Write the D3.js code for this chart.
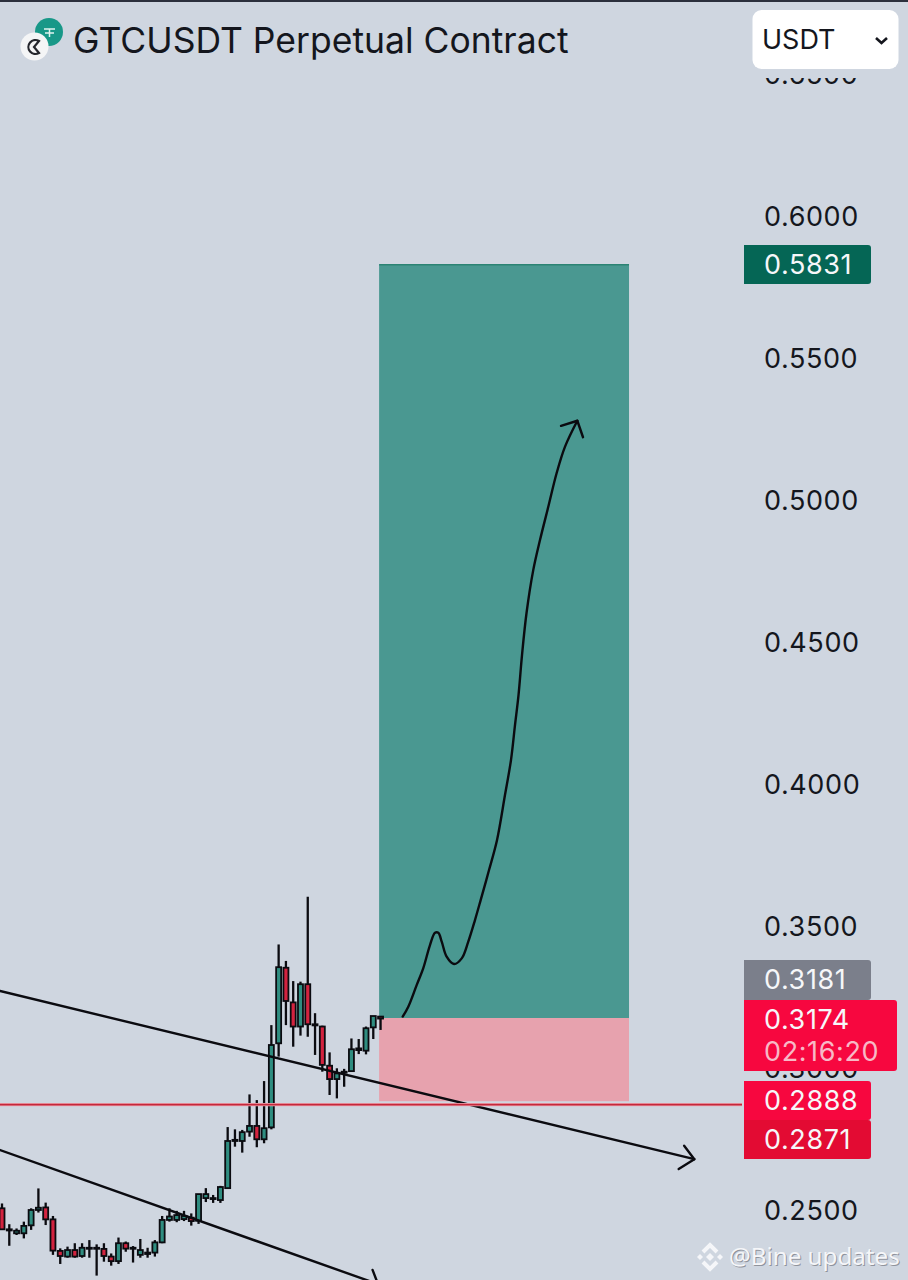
<!DOCTYPE html>
<html>
<head>
<meta charset="utf-8">
<script src="https://cdn.jsdelivr.net/npm/d3@7"></script>
<style>
  html, body { margin: 0; padding: 0; background: #cfd6e0; }
  svg { display: block; font-family: Inter, Roboto, sans-serif; }
</style>
</head>
<body>
<svg id="chart" width="908" height="1280"></svg>
<script>
// candle prices
const opens  = [.2506,.2432,.2418,.2418,.2446,.2500,.2509,.2467,.2356,.2336,.2359,.2338,.2364,.2364,.2363,.2336,.2320,.2383,.2364,.2342,.2345,.2350,.2386,.2465,.2465,.2468,.2473,.2462,.2542,.2539,.2535,.2577,.2743,.2743,.2776,.2796,.2749,.2791,.3087,.3353,.3231,.3146,.3295,.3154,.3146,.3008,.2961,.2984,.2989,.3063,.3061,.3143,.3181];
const closes = [.2432,.2428,.2427,.2444,.2500,.2508,.2467,.2357,.2338,.2359,.2336,.2367,.2367,.2367,.2338,.2320,.2383,.2364,.2367,.2359,.2350,.2386,.2465,.2477,.2482,.2479,.2461,.2556,.2556,.2542,.2581,.2743,.2747,.2774,.2796,.2749,.2788,.3081,.3355,.3236,.3146,.3295,.3154,.3150,.3011,.2961,.2981,.2987,.3066,.3069,.3140,.3183,.3174];
const highs  = [.2523,.2450,.2435,.2459,.2506,.2576,.2526,.2479,.2365,.2371,.2383,.2383,.2394,.2379,.2383,.2347,.2403,.2389,.2373,.2398,.2367,.2394,.2479,.2506,.2497,.2497,.2488,.2556,.2577,.2553,.2585,.2792,.2784,.2782,.2907,.2887,.2954,.3151,.3435,.3377,.3306,.3304,.3603,.3193,.3149,.3055,.2999,.2997,.3104,.3102,.3146,.3183,.3183];
const lows   = [.2430,.2374,.2412,.2400,.2430,.2491,.2447,.2342,.2310,.2332,.2332,.2332,.2332,.2269,.2318,.2304,.2310,.2353,.2315,.2332,.2332,.2336,.2383,.2459,.2457,.2461,.2445,.2451,.2528,.2525,.2525,.2574,.2723,.2702,.2758,.2721,.2735,.2784,.3040,.3151,.3075,.3114,.3110,.3046,.2987,.2905,.2893,.2934,.2987,.3049,.3048,.3102,.3134];

const tickLabels = [0.25, 0.3, 0.35, 0.4, 0.45, 0.5, 0.55, 0.6, 0.65];

// long position box: target, entry, stop
const boxStart = 51.8, boxEnd = 86.13;
const targetPrice = 0.5828, entryPrice = 0.3176, stopPrice = 0.2883;
const redLinePrice = 0.2871;

// hand drawn trend lines and arrow (bar index, price)
const upperIdx   = [-0.27, 95.1];
const upperPrice = [0.3271, 0.2679];
const upperHeadIdx   = [93.7, 95.1, 92.95];
const upperHeadPrice = [0.2726, 0.2679, 0.2644];
const lowerIdx   = [-0.27, 51.65];
const lowerPrice = [0.2711, 0.2239];
const lowerHeadIdx   = [50.9, 51.65];
const lowerHeadPrice = [0.2289, 0.2239];

const curveIdx   = [55.04,55.81,56.96,57.87,58.79,59.48,59.93,60.40,61.08,62.09,63.15,64.05,64.97,65.76,66.9,68.0,69.09,69.92,70.47,70.95,71.43,72.05,72.98,73.9,75.04,76.19,77.34,79.03];
const curvePrice = [.3181,.3216,.3292,.3352,.3433,.3476,.3476,.3445,.3392,.3366,.3386,.3445,.3521,.3592,.3697,.3803,.3961,.4085,.4208,.4313,.4454,.4602,.4754,.4859,.4976,.5095,.5188,.5279];
const curveHeadIdx   = [76.79, 79.03, 79.81];
const curveHeadPrice = [.5261, .5279, .5221];

// price tags on the right side
const tagLabels = ["0.5831", "0.3181", "0.3174", "0.2888", "0.2871"];
const tagTimer = "02:16:20";
const tagColors = ["#056655", "#7b7f8b", "#f7073f", "#f7073f", "#e30b33"];
const tagTops = [245, 960, 1000, 1081, 1120];
const tagHeights = [39, 40, 71, 39, 39];
const tagWidths = [127, 127, 153, 127, 127];

const svg = d3.select("#chart");
const x = d3.scaleLinear().domain([0, 52]).range([2, 380.56]);
const y = d3.scaleLinear().domain([0.25, 0.6]).range([1210, 216]);

const candleColor = (i) => closes[i] >= opens[i] ? "#2f8d80" : "#d3233f";

svg.append("rect").attr("width", 908).attr("height", 1280).attr("fill", "#cfd6e0");
svg.append("rect").attr("width", 908).attr("height", 2).attr("fill", "#2b2f3c");

// position box
svg.append("rect")
  .attr("x", x(boxStart)).attr("width", x(boxEnd) - x(boxStart))
  .attr("y", y(targetPrice)).attr("height", y(entryPrice) - y(targetPrice))
  .attr("fill", "#4a9891");
svg.append("line")
  .attr("x1", x(boxStart)).attr("x2", x(boxEnd))
  .attr("y1", y(targetPrice)).attr("y2", y(targetPrice))
  .attr("stroke", "#2c8374").attr("stroke-width", 1.5);
svg.append("rect")
  .attr("x", x(boxStart)).attr("width", x(boxEnd) - x(boxStart))
  .attr("y", y(entryPrice)).attr("height", y(stopPrice) - y(entryPrice))
  .attr("fill", "#e7a2ae");

// candles
const candles = svg.append("g").selectAll("g").data(d3.range(opens.length)).join("g");
candles.append("line")
  .attr("x1", (i) => x(i)).attr("x2", (i) => x(i))
  .attr("y1", (i) => y(highs[i])).attr("y2", (i) => y(lows[i]))
  .attr("stroke", "#0b0b10").attr("stroke-width", 2.3);
candles.append("rect")
  .attr("x", (i) => x(i) - 2.5).attr("width", 5)
  .attr("y", (i) => y(Math.max(opens[i], closes[i])))
  .attr("height", (i) => Math.max(1, Math.abs(y(opens[i]) - y(closes[i]))))
  .attr("fill", (i) => candleColor(i))
  .attr("stroke", "#0b0b10").attr("stroke-width", 1.8);

// trend lines and arrows
const pathOf = d3.line().x((d) => x(d[0])).y((d) => y(d[1]));
const curveOf = d3.line().x((d) => x(d[0])).y((d) => y(d[1])).curve(d3.curveCatmullRom);
function drawLine(idx, price, gen) {
  svg.append("path")
    .attr("d", gen(d3.zip(idx, price)))
    .attr("fill", "none").attr("stroke", "#0b0b10").attr("stroke-width", 2.4)
    .attr("stroke-linejoin", "round").attr("stroke-linecap", "round");
}
drawLine(upperIdx, upperPrice, pathOf);
drawLine(upperHeadIdx, upperHeadPrice, pathOf);
drawLine(lowerIdx, lowerPrice, pathOf);
drawLine(lowerHeadIdx, lowerHeadPrice, pathOf);
drawLine(curveIdx, curvePrice, curveOf);
drawLine(curveHeadIdx, curveHeadPrice, pathOf);

// red level line
svg.append("line")
  .attr("x1", 0).attr("x2", 742)
  .attr("y1", y(redLinePrice)).attr("y2", y(redLinePrice))
  .attr("stroke", "#f0a8b2").attr("stroke-width", 3.4);
svg.append("line")
  .attr("x1", 0).attr("x2", 742)
  .attr("y1", y(redLinePrice)).attr("y2", y(redLinePrice))
  .attr("stroke", "#c4283c").attr("stroke-width", 1.9);

// price axis
const axis = d3.axisRight(y).tickValues(tickLabels).tickFormat(d3.format(".4f")).tickSize(0).tickPadding(0);
const axisG = svg.append("g").attr("transform", "translate(764,1)").call(axis);
axisG.select(".domain").remove();
axisG.selectAll("text")
  .attr("font-family", "Inter, Roboto, sans-serif")
  .attr("font-size", 27).attr("fill", "#14161d").attr("letter-spacing", 0.6);

// price tags
tagLabels.forEach((label, i) => {
  svg.append("path")
    .attr("d", `M744,${tagTops[i]}h${tagWidths[i] - 3}a3,3 0 0 1 3,3v${tagHeights[i] - 6}a3,3 0 0 1 -3,3h-${tagWidths[i] - 3}z`)
    .attr("fill", tagColors[i]);
  const isTimer = i === 2;
  svg.append("text")
    .attr("x", 764).attr("y", tagTops[i] + (isTimer ? 20 : tagHeights[i] / 2))
    .attr("dy", "0.35em")
    .attr("font-size", 27).attr("letter-spacing", 0.6).attr("fill", "#f6f7f9")
    .text(label);
  if (isTimer) {
    svg.append("text")
      .attr("x", 764).attr("y", tagTops[i] + 52).attr("dy", "0.35em")
      .attr("font-size", 27).attr("letter-spacing", 0.6).attr("fill", "#f7b9c6")
      .text(tagTimer);
  }
});

// the top of the price scale is cut off by the header band
svg.append("rect").attr("x", 740).attr("y", 2).attr("width", 168).attr("height", 76).attr("fill", "#cfd6e0");

// currency select
svg.append("rect")
  .attr("x", 752.5).attr("y", 10).attr("width", 146).attr("height", 59).attr("rx", 9)
  .attr("fill", "#ffffff");
svg.append("text")
  .attr("x", 762).attr("y", 40).attr("dy", "0.35em")
  .attr("font-size", 27).attr("fill", "#14161d").text("USDT");
svg.append("path")
  .attr("d", "M876,38l5.5,5l5.5,-5")
  .attr("fill", "none").attr("stroke", "#14161d").attr("stroke-width", 2.6);

// title with coin icons
svg.append("circle").attr("cx", 49).attr("cy", 32).attr("r", 14).attr("fill", "#189888");
svg.append("path")
  .attr("d", "M44,29h11M49.5,29v8M45,33h9")
  .attr("stroke", "#dff3ef").attr("stroke-width", 1.5).attr("fill", "none");
svg.append("circle").attr("cx", 34.5).attr("cy", 46.5).attr("r", 14).attr("fill", "#f4f5f6");
svg.append("path")
  .attr("d", "M39,41a7,7 0 1 0 0,12l-5,-6z")
  .attr("fill", "none").attr("stroke", "#24262c").attr("stroke-width", 2.2);
svg.append("text")
  .attr("x", 73).attr("y", 41).attr("dy", "0.35em")
  .attr("font-size", 35.5).attr("fill", "#14161d")
  .text("GTCUSDT Perpetual Contract");

// watermark
const wm = svg.append("g");
const wmColor = "#f5f6f9";
["M703,1252L710,1245L717,1252", "M703,1262L710,1269L717,1262"].forEach((d) => {
  wm.append("path").attr("d", d).attr("fill", "none").attr("stroke", wmColor).attr("stroke-width", 4);
});
[[710, 1257, 4], [700, 1257, 3], [720, 1257, 3]].forEach((d) => {
  wm.append("path").attr("fill", wmColor)
    .attr("d", `M${d[0] - d[2]},${d[1]}L${d[0]},${d[1] - d[2]}L${d[0] + d[2]},${d[1]}L${d[0]},${d[1] + d[2]}z`);
});
[["#8f939c", 1], [wmColor, 0]].forEach((s) => {
  wm.append("text")
    .attr("x", 729 + s[1]).attr("y", 1257 + s[1]).attr("dy", "0.35em")
    .attr("font-family", "'Noto Sans', sans-serif")
    .attr("font-size", 24.2).attr("fill", s[0])
    .text("@Bine updates");
});
</script>
</body>
</html>
